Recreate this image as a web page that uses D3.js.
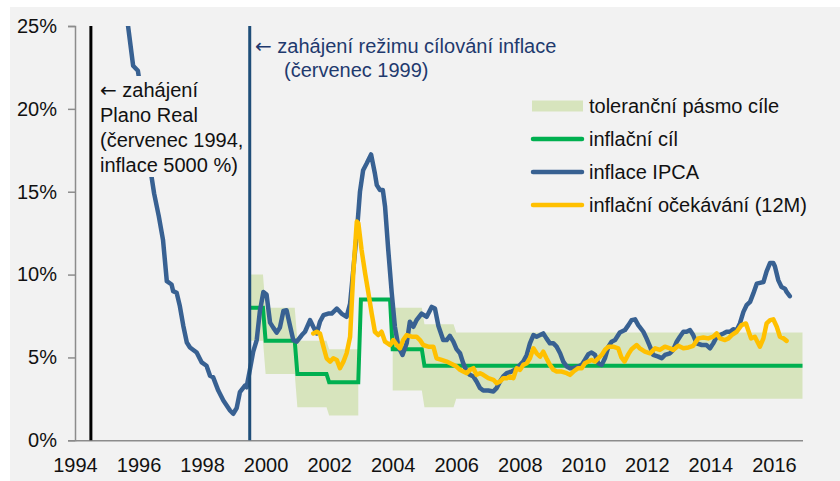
<!DOCTYPE html>
<html>
<head>
<meta charset="utf-8">
<script src="https://cdn.jsdelivr.net/npm/d3@7"></script>
<style>
  body { margin: 0; background: #fff; }
  text { font-family: "Liberation Sans", Arial, sans-serif; }
  .arrow { font-family: "DejaVu Sans", sans-serif; }
</style>
</head>
<body>
<script>
// chart size
var svgWidth = 840;
var svgHeight = 481;

// x ticks (years) and y ticks (%)
var yearTicks = [1994, 1996, 1998, 2000, 2002, 2004, 2006, 2008, 2010, 2012, 2014, 2016];
var pctTicks = [0, 5, 10, 15, 20, 25];

// inflation target by year (1999 starts in July), tolerance band low / high
var targetYears = [1999, 2000, 2001, 2002, 2003, 2004, 2005, 2006, 2007, 2008, 2009, 2010, 2011, 2012, 2013, 2014, 2015, 2016];
var targetValues = [8, 6, 4, 3.5, 8.5, 5.5, 4.5, 4.5, 4.5, 4.5, 4.5, 4.5, 4.5, 4.5, 4.5, 4.5, 4.5, 4.5];
var bandLow = [6, 4, 2, 1.5, null, 3, 2, 2.5, 2.5, 2.5, 2.5, 2.5, 2.5, 2.5, 2.5, 2.5, 2.5, 2.5];
var bandHigh = [10, 8, 6, 5.5, null, 8, 7, 6.5, 6.5, 6.5, 6.5, 6.5, 6.5, 6.5, 6.5, 6.5, 6.5, 6.5];

// IPCA 12m inflation, [decimal year, %]
var ipca = [
  [1995.5, 28.0], [1995.67, 25.0], [1995.83, 22.6], [1995.98, 22.3], [1996.08, 21.0], [1996.17, 19.8],
  [1996.25, 18.5], [1996.33, 17.2], [1996.41, 15.9], [1996.49, 14.9], [1996.64, 13.5], [1996.77, 12.1],
  [1996.89, 9.6], [1997.04, 9.4], [1997.09, 9.0], [1997.2, 8.9], [1997.3, 8.1], [1997.41, 6.9],
  [1997.52, 5.9], [1997.62, 5.6], [1997.83, 5.3], [1997.99, 4.7], [1998.14, 4.5], [1998.25, 3.9],
  [1998.35, 3.8], [1998.51, 3.0], [1998.67, 2.4], [1998.88, 1.8], [1998.98, 1.6], [1999.09, 1.95],
  [1999.19, 2.9], [1999.35, 3.3], [1999.4, 3.2], [1999.49, 4.1], [1999.61, 5.35], [1999.72, 6.05],
  [1999.82, 7.8], [1999.93, 8.95], [2000.03, 8.8], [2000.14, 7.1], [2000.24, 6.8], [2000.35, 6.5],
  [2000.45, 6.8], [2000.56, 7.8], [2000.66, 7.85], [2000.77, 6.9], [2000.87, 6.05], [2000.98, 5.95],
  [2001.14, 6.35], [2001.24, 6.55], [2001.4, 7.25], [2001.5, 6.85], [2001.61, 6.45], [2001.71, 7.15],
  [2001.82, 7.55], [2001.97, 7.65], [2002.08, 7.65], [2002.24, 7.95], [2002.39, 7.65], [2002.55, 7.45],
  [2002.66, 8.25], [2002.76, 10.3], [2002.87, 12.5], [2002.97, 15.0], [2003.07, 16.3], [2003.18, 16.7],
  [2003.32, 17.25], [2003.44, 16.1], [2003.5, 15.4], [2003.6, 15.1], [2003.69, 15.1], [2003.76, 14.1],
  [2003.86, 11.5], [2003.97, 8.9], [2004.07, 6.85], [2004.18, 5.65], [2004.31, 5.15], [2004.44, 5.85],
  [2004.54, 7.15], [2004.65, 6.85], [2004.75, 7.25], [2004.91, 7.65], [2005.07, 7.45], [2005.23, 8.05],
  [2005.33, 7.95], [2005.44, 6.9], [2005.59, 6.05], [2005.7, 6.05], [2005.8, 6.3], [2005.91, 5.95],
  [2006.01, 5.5], [2006.12, 5.25], [2006.22, 4.65], [2006.33, 4.15], [2006.43, 3.95], [2006.54, 3.85],
  [2006.64, 3.55], [2006.75, 3.15], [2006.85, 3.0], [2007.01, 3.0], [2007.17, 2.95], [2007.27, 3.15],
  [2007.38, 3.55], [2007.48, 3.85], [2007.59, 4.05], [2007.74, 4.15], [2007.85, 4.25], [2008.01, 4.55],
  [2008.11, 4.75], [2008.22, 5.15], [2008.32, 5.85], [2008.43, 6.35], [2008.53, 6.25], [2008.64, 6.35],
  [2008.74, 6.45], [2008.84, 6.15], [2008.95, 5.85], [2009.06, 5.85], [2009.16, 5.65], [2009.27, 5.25],
  [2009.37, 4.75], [2009.48, 4.45], [2009.58, 4.35], [2009.69, 4.35], [2009.84, 4.45], [2009.95, 4.55],
  [2010.05, 4.85], [2010.16, 5.2], [2010.26, 5.3], [2010.37, 5.15], [2010.47, 4.65], [2010.58, 4.55],
  [2010.68, 4.95], [2010.79, 5.65], [2010.89, 5.95], [2011.0, 6.05], [2011.15, 6.5], [2011.31, 6.65],
  [2011.42, 6.95], [2011.52, 7.25], [2011.63, 7.3], [2011.73, 6.95], [2011.89, 6.55], [2011.99, 6.15],
  [2012.1, 5.65], [2012.2, 5.15], [2012.36, 5.05], [2012.47, 4.95], [2012.57, 5.15], [2012.73, 5.25],
  [2012.83, 5.45], [2012.94, 5.95], [2013.04, 6.25], [2013.15, 6.55], [2013.25, 6.55], [2013.36, 6.65],
  [2013.46, 6.35], [2013.57, 5.85], [2013.73, 5.75], [2013.88, 5.75], [2013.99, 5.55], [2014.09, 5.85],
  [2014.2, 6.25], [2014.3, 6.35], [2014.41, 6.45], [2014.51, 6.55], [2014.62, 6.55], [2014.72, 6.7],
  [2014.83, 6.65], [2014.93, 7.05], [2015.04, 7.75], [2015.14, 8.15], [2015.25, 8.35], [2015.35, 8.85],
  [2015.46, 9.45], [2015.56, 9.5], [2015.67, 9.55], [2015.77, 10.2], [2015.88, 10.7], [2015.98, 10.7],
  [2016.03, 10.5], [2016.14, 9.65], [2016.24, 9.25], [2016.35, 9.15], [2016.4, 8.95], [2016.5, 8.7]
];

// inflation expectations 12M, [decimal year, %]
var expect = [
  [2001.5, 6.45], [2001.61, 6.55], [2001.71, 6.45], [2001.82, 5.65], [2001.92, 4.95], [2002.03, 4.75],
  [2002.13, 4.95], [2002.24, 4.85], [2002.34, 4.35], [2002.45, 4.75], [2002.55, 5.25], [2002.66, 6.25],
  [2002.76, 10.1], [2002.87, 13.2], [2002.92, 13.1], [2003.02, 11.5], [2003.13, 10.1], [2003.23, 8.95],
  [2003.34, 7.65], [2003.44, 6.55], [2003.55, 6.35], [2003.65, 6.55], [2003.76, 5.95], [2003.92, 5.75],
  [2004.02, 6.05], [2004.13, 5.75], [2004.23, 5.55], [2004.33, 6.05], [2004.44, 6.35], [2004.6, 6.25],
  [2004.75, 6.25], [2004.86, 6.05], [2004.96, 5.75], [2005.12, 5.65], [2005.28, 5.65], [2005.38, 4.95],
  [2005.54, 4.85], [2005.7, 4.75], [2005.86, 4.6], [2006.01, 4.45], [2006.12, 4.25], [2006.22, 4.15],
  [2006.33, 4.05], [2006.43, 4.25], [2006.54, 4.35], [2006.64, 3.95], [2006.75, 4.05], [2006.85, 3.95],
  [2007.01, 3.75], [2007.17, 3.65], [2007.27, 3.45], [2007.38, 3.55], [2007.48, 3.75], [2007.59, 3.75],
  [2007.69, 3.85], [2007.8, 3.75], [2007.9, 4.35], [2008.01, 4.25], [2008.11, 4.55], [2008.22, 4.65],
  [2008.32, 4.95], [2008.43, 5.55], [2008.53, 5.25], [2008.64, 5.05], [2008.74, 5.35], [2008.84, 4.95],
  [2008.95, 4.55], [2009.06, 4.25], [2009.16, 4.15], [2009.32, 4.15], [2009.48, 4.05], [2009.58, 3.95],
  [2009.69, 4.15], [2009.84, 4.35], [2009.95, 4.35], [2010.05, 4.65], [2010.16, 4.75], [2010.26, 4.85],
  [2010.37, 4.75], [2010.47, 4.95], [2010.58, 5.15], [2010.68, 5.45], [2010.79, 5.65], [2010.94, 5.65],
  [2011.1, 5.55], [2011.2, 5.0], [2011.3, 4.75], [2011.42, 5.2], [2011.52, 5.5], [2011.68, 5.75],
  [2011.78, 5.55], [2011.94, 5.35], [2012.1, 5.25], [2012.26, 5.55], [2012.41, 5.45], [2012.57, 5.65],
  [2012.73, 5.55], [2012.83, 5.45], [2012.99, 5.7], [2013.15, 5.55], [2013.31, 5.6], [2013.46, 5.7],
  [2013.62, 6.15], [2013.78, 6.2], [2013.93, 6.15], [2014.09, 6.25], [2014.2, 6.45], [2014.3, 6.15],
  [2014.46, 6.05], [2014.57, 6.15], [2014.67, 6.35], [2014.83, 6.55], [2014.98, 6.95], [2015.12, 7.05],
  [2015.19, 6.65], [2015.28, 6.15], [2015.4, 6.25], [2015.56, 5.65], [2015.67, 6.15], [2015.77, 7.05],
  [2015.88, 7.25], [2015.98, 7.3], [2016.09, 6.85], [2016.19, 6.25], [2016.3, 6.15], [2016.4, 6.0]
];

// event markers
var events = [1994.5, 1999.5];

var legendLabels = ["toleranční pásmo cíle", "inflační cíl", "inflace IPCA", "inflační očekávání (12M)"];

// colours
var bandColor = "#d7e4bd";
var greenColor = "#00b050";
var blueColor = "#386192";
var yellowColor = "#ffc000";
var navy = "#1f4e79";

var svg = d3.select("body")
  .append("svg")
  .attr("width", svgWidth)
  .attr("height", svgHeight);

// grey chart background
svg.append("rect")
  .attr("x", 10).attr("y", 7)
  .attr("width", svgWidth - 10).attr("height", svgHeight - 7)
  .attr("fill", "#f2f2f2");

var x = d3.scaleLinear().domain([1994, 2016.9]).range([75, 802.5]);
var y = d3.scaleLinear().domain([0, 25]).range([440.3, 26]);

svg.append("clipPath").attr("id", "plot")
  .append("rect")
  .attr("x", x.range()[0]).attr("y", y(25))
  .attr("width", x.range()[1] - x.range()[0]).attr("height", y(0) - y(25));

// target steps: one flat stretch per year, Jan..Dec (1999 from July)
var targetPts = [];
targetYears.forEach(function (yr, i) {
  var start = yr === 1999 ? 1999.5 : yr;
  targetPts.push({ t: start, v: targetValues[i], lo: bandLow[i], hi: bandHigh[i] });
  targetPts.push({ t: yr + 11 / 12, v: targetValues[i], lo: bandLow[i], hi: bandHigh[i] });
});

var plot = svg.append("g").attr("clip-path", "url(#plot)");

plot.append("path")
  .datum(targetPts)
  .attr("fill", bandColor)
  .attr("d", d3.area()
    .defined(d => d.lo !== null)
    .x(d => x(d.t))
    .y0(d => y(d.lo))
    .y1(d => y(d.hi)));

plot.append("path")
  .datum(targetPts)
  .attr("fill", "none")
  .attr("stroke", greenColor)
  .attr("stroke-width", 4)
  .attr("d", d3.line().x(d => x(d.t)).y(d => y(d.v)));

var line = d3.line().x(d => x(d[0])).y(d => y(d[1]));

plot.append("path")
  .datum(ipca)
  .attr("fill", "none")
  .attr("stroke", blueColor)
  .attr("stroke-width", 4.5)
  .attr("stroke-linejoin", "round")
  .attr("stroke-linecap", "round")
  .attr("d", line);

plot.append("path")
  .datum(expect)
  .attr("fill", "none")
  .attr("stroke", yellowColor)
  .attr("stroke-width", 4.5)
  .attr("stroke-linejoin", "round")
  .attr("stroke-linecap", "round")
  .attr("d", line);

// axes
var yAxis = svg.append("g")
  .attr("transform", `translate(${x.range()[0]},0)`)
  .call(d3.axisLeft(y).tickValues(pctTicks).tickFormat(d => d + "%").tickSize(7).tickPadding(11));

var xAxis = svg.append("g")
  .attr("transform", `translate(0,${y(0)})`)
  .call(d3.axisBottom(x).tickValues(yearTicks).tickFormat(d3.format("d")).tickSize(0).tickPadding(18));

[yAxis, xAxis].forEach(function (ax) {
  ax.select(".domain").attr("stroke", "#8c8c8c").attr("stroke-width", 1.5);
  ax.selectAll(".tick line").attr("stroke", "#8c8c8c").attr("stroke-width", 1.5);
  ax.selectAll("text").attr("fill", "#111").style("font-size", "20px")
    .style("font-family", "'Liberation Sans', Arial, sans-serif");
});

// annotation: Plano Real, on a grey box over the IPCA line
svg.append("rect")
  .attr("x", 97).attr("y", 76)
  .attr("width", 151).attr("height", 101)
  .attr("fill", "#f2f2f2");

// text line with an optional leading arrow drawn in DejaVu
function noteLine(sel, d) {
  if (d.indexOf("←") === 0) {
    sel.append("tspan").attr("class", "arrow").text("←");
    sel.append("tspan").text(d.slice(1));
  } else {
    sel.text(d);
  }
}

var note1 = ["← zahájení", "Plano Real", "(červenec 1994,", "inflace 5000 %)"];
svg.append("g").selectAll("text")
  .data(note1)
  .enter()
  .append("text")
  .attr("x", 100)
  .attr("y", (d, i) => 97 + i * 25)
  .attr("fill", "#111")
  .style("font-size", "20px")
  .each(function (d) { noteLine(d3.select(this), d); });

// event lines
svg.selectAll(".event")
  .data(events)
  .enter()
  .append("line")
  .attr("x1", d => x(d)).attr("x2", d => x(d))
  .attr("y1", y(25)).attr("y2", y(0))
  .attr("stroke", (d, i) => i === 0 ? "#000" : navy)
  .attr("stroke-width", 3);

var note2 = ["← zahájení režimu cílování inflace", "(červenec 1999)"];
svg.append("g").selectAll("text")
  .data(note2)
  .enter()
  .append("text")
  .attr("x", (d, i) => i === 0 ? 255 : 284)
  .attr("y", (d, i) => 52.5 + i * 24)
  .attr("fill", "#1f3a6e")
  .style("font-size", "20px")
  .each(function (d) { noteLine(d3.select(this), d); });

// legend
var legend = svg.append("g").attr("transform", "translate(532,106)");
var legendColors = [bandColor, greenColor, blueColor, yellowColor];

legendLabels.forEach(function (label, i) {
  var row = legend.append("g").attr("transform", `translate(0,${i * 33})`);
  if (i === 0) {
    row.append("rect")
      .attr("x", 0).attr("y", -5.5)
      .attr("width", 51).attr("height", 11)
      .attr("fill", legendColors[i]);
  } else {
    row.append("line")
      .attr("x1", 1).attr("x2", 50)
      .attr("stroke", legendColors[i])
      .attr("stroke-width", 4.5)
      .attr("stroke-linecap", "round");
  }
  row.append("text")
    .attr("x", 57)
    .attr("y", 7)
    .attr("fill", "#111")
    .style("font-size", "20px")
    .text(label);
});
</script>
</body>
</html>
